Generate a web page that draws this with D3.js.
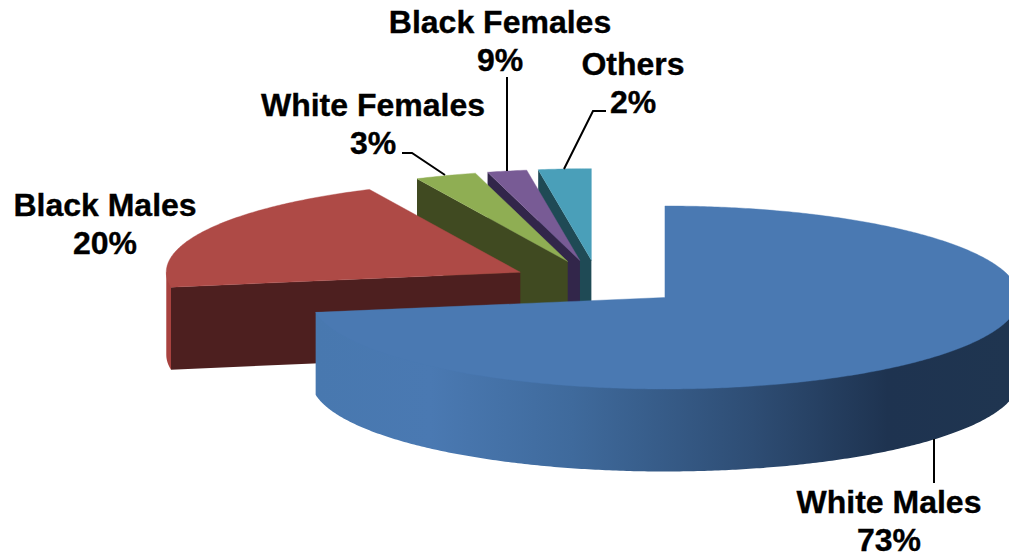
<!DOCTYPE html>
<html>
<head>
<meta charset="utf-8">
<script src="https://cdn.jsdelivr.net/npm/d3@7/dist/d3.min.js"></script>
<style>
html,body{margin:0;padding:0;background:#fff;overflow:hidden}
svg{display:block}
text{font-family:"Liberation Sans",Arial,sans-serif;font-weight:700;font-size:32px;fill:#000;stroke:#000;stroke-width:0.35px;text-anchor:middle}
</style>
</head>
<body>
<svg id="chart" width="1009" height="556"></svg>
<script>
// Data
const categories = ["White Males", "Black Males", "White Females", "Black Females", "Others"];
const sliceShares = [72.4, 20.6, 2.8, 1.8, 2.4];      // drawn slice sizes
const printedPercents = ["73%", "20%", "3%", "9%", "2%"]; // labels as printed
const topColors = ["#4A79B2", "#AE4A46", "#8FAE53", "#785B95", "#4A9FB9"];
const wallColors = ["url(#wmWall)", "#A8423F", "#8FAE53", "#785B95", "#4A9FB9"];
const cutColors = ["#1F3450", "#4D1F1F", "#404A21", "#32264A", "#1F4A55"];

// Layout
const W = 1009, H = 556;
const centerX = 598, centerY = 282.8, radiusX = 354, radiusY = 91.5, depth = 82.5, explode = 0.248;
const sx = d3.scaleLinear().domain([-1, 1]).range([-radiusX, radiusX]);
const sy = d3.scaleLinear().domain([-1, 1]).range([-radiusY, radiusY]);
const labelLayout = [
  {x: 889, y: 513}, {x: 105, y: 216}, {x: 373, y: 116}, {x: 500, y: 33}, {x: 633, y: 75}
];
const leaderLayout = [
  [[934, 439], [934, 483]],
  null,
  [[402, 153], [412, 153], [445, 175]],
  [[507, 77], [507, 171]],
  [[606, 111], [593, 111], [564, 169]]
];
const lineSpacing = 37.5;

const svg = d3.select("#chart");
const defs = svg.append("defs");
const grad = defs.append("linearGradient").attr("id", "wmWall")
  .attr("gradientUnits", "userSpaceOnUse").attr("x1", 316).attr("x2", 1009).attr("y1", 0).attr("y2", 0);
[[0, "#4878AF"], [0.165, "#4A79B2"], [0.37, "#3F6A9C"], [0.63, "#2E4D74"], [0.825, "#1E3350"], [1, "#1F3550"]]
  .forEach(([o, c]) => grad.append("stop").attr("offset", o).attr("stop-color", c));

const pie = d3.pie().sort(null).value(d => d.share);
const slices = pie(categories.map((name, i) => ({name, share: sliceShares[i], i})));
const line = d3.line();

function rim(s, a, f = 1) { return [s.cx + f * sx(Math.sin(a)), s.cy + f * sy(-Math.cos(a))]; }
function arcPts(s, a0, a1, f = 1) {
  const n = Math.max(2, Math.ceil((a1 - a0) / 0.01));
  return d3.range(n + 1).map(i => rim(s, a0 + (a1 - a0) * i / n, f));
}
slices.forEach(s => {
  const mid = (s.startAngle + s.endAngle) / 2;
  s.cx = centerX + explode * sx(Math.sin(mid));
  s.cy = centerY + explode * sy(-Math.cos(mid));
});

// painter's order: back slices first, front (White Males) last
const order = d3.range(slices.length).reverse();
order.forEach(i => {
  const s = slices[i], g = svg.append("g").attr("class", "slice");
  // cut face at the start angle
  const st = rim(s, s.startAngle), apex = [s.cx, s.cy];
  const dn = p => [p[0], p[1] + depth];
  g.append("path").attr("d", line([apex, st, dn(st), dn(apex)]) + "Z").attr("fill", cutColors[i]);
  // outer wall, front half only; its upper edge runs under the top surface so no seam shows
  const a0 = Math.max(s.startAngle, Math.PI / 2), a1 = Math.min(s.endAngle, 3 * Math.PI / 2);
  if (a1 > a0) {
    const bottom = arcPts(s, a0, a1).reverse().map(dn);
    const inner = arcPts(s, a0, a1, 0.98);
    g.append("path")
      .attr("d", line(inner.concat([rim(s, a1)], bottom, [rim(s, a0)])) + "Z")
      .attr("fill", wallColors[i]);
  }
  // top surface
  g.append("path").attr("d", line([apex].concat(arcPts(s, s.startAngle, s.endAngle))) + "Z")
    .attr("fill", topColors[i]).attr("stroke", topColors[i]).attr("stroke-width", 0.4);
});

// leader lines
leaderLayout.forEach(pts => {
  if (pts) svg.append("path").attr("d", line(pts)).attr("fill", "none").attr("stroke", "#000").attr("stroke-width", 2);
});

// labels
categories.forEach((name, i) => {
  const l = labelLayout[i];
  svg.append("text").attr("x", l.x).attr("y", l.y).text(name);
  svg.append("text").attr("x", l.x).attr("y", l.y + lineSpacing).text(printedPercents[i]);
});
</script>
</body>
</html>
